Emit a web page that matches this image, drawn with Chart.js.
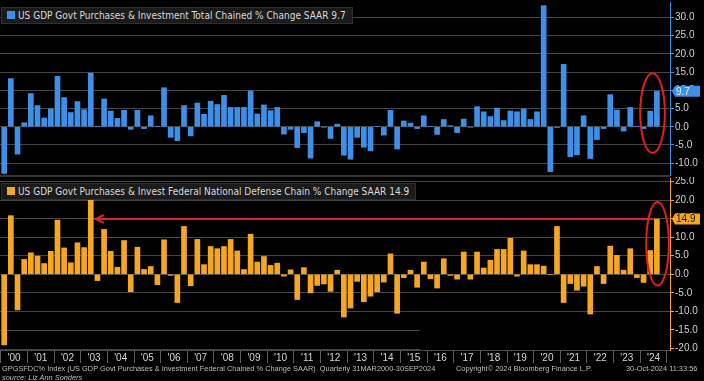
<!DOCTYPE html>
<html>
<head>
<meta charset="utf-8">
<script src="https://cdn.jsdelivr.net/npm/chart.js@4.4.1/dist/chart.umd.min.js"></script>
<style>
html,body{margin:0;padding:0;background:#000;width:704px;height:381px;overflow:hidden;}
.box{position:absolute;left:0;width:704px;}
#b1{top:0;height:176px;}
#b2{top:177px;height:190px;}
.sep{position:absolute;left:0;width:670px;top:175px;height:2px;background:#353535;}
.legend{position:absolute;left:1px;height:15px;background:#1b1b1b;border:1px solid #2f2f2f;color:#d8d8d8;
  font-family:"Liberation Sans Narrow","Arial Narrow","DejaVu Sans Condensed","Liberation Sans",sans-serif;font-size:10px;
  line-height:15px;white-space:nowrap;padding:0 6px 0 16px;}
.legend i{position:absolute;left:5px;top:3px;width:8px;height:8px;}
.foot{position:absolute;color:#bdbdbd;font-family:"Liberation Sans Narrow","Arial Narrow","Liberation Sans",sans-serif;font-size:7.4px;white-space:nowrap;line-height:9px;}
</style>
</head>
<body>
<div class="box" id="b1"><canvas id="c1"></canvas></div>
<div class="sep"></div>
<div class="box" id="b2"><canvas id="c2"></canvas></div>
<div class="legend" id="lg1" style="top:7px"><i style="background:#3f8fe6"></i><span></span></div>
<div class="legend" id="lg2" style="top:183px"><i style="background:#f5a623"></i><span></span></div>
<div class="foot" style="left:2px;top:364px">GPGSFDC% Index (US GDP Govt Purchases &amp; Investment Federal Chained % Change SAAR)&nbsp; Quarterly 31MAR2000-30SEP2024</div>
<div class="foot" style="left:456px;top:364px">Copyright© 2024 Bloomberg Finance L.P.</div>
<div class="foot" style="left:626px;top:364px">30-Oct-2024 11:33:56</div>
<div class="foot" style="left:2px;top:373px;font-style:italic">source: Liz Ann Sonders</div>
<script>
// ---------------- DATA ----------------
const yearLabels = ["'00","'01","'02","'03","'04","'05","'06","'07","'08","'09","'10","'11","'12",
  "'13","'14","'15","'16","'17","'18","'19","'20","'21","'22","'23","'24"];

const govtTotal = [
  -12.8, 13.2, -7.5, 1.1,   9.1, 5.8, 2.4, 4.9,   13.8, 8.0, 3.9, 6.9,   4.7, 14.7, 0.1, 7.6,
  4.3, 2.3, 4.5, -0.7,   4.5, -0.5, 3.0, 0.1,   10.7, -2.9, -3.8, 5.8,   -2.5, 6.5, 3.4, 7.0,
  6.1, 8.6, 5.3, 5.3,   5.3, 9.8, 3.5, 6.0,   4.4, 5.3, -2.0, -0.7,   -5.7, -1.6, -8.6, 1.4,
  -0.1, -3.2, 0.7, -7.8,   -8.9, -2.9, -5.6, -6.6,   0.1, -2.3, 4.5, -6.1,   1.6, 1.0, -0.5, 3.0,
  0.1, -2.1, 2.0, 0.3,   -1.6, 2.1, -0.1, 5.5,   4.1, 2.8, 5.1, 1.7,   4.3, 4.1, 4.9, 2.0,
  4.1, 33.2, -12.3, -0.2,   17.1, -8.2, -7.7, 3.0,   -8.7, -3.5, -0.5, 8.8,   4.6, -1.2, 5.3, 0.1,
  -0.5, 4.3, 9.7
];

const defense = [
  -19.0, 15.8, -9.6, 4.0,   5.8, 4.9, 2.9, 6.2,   14.6, 7.1, 3.1, 8.5,   7.2, 20.0, -1.7, 12.1,
  6.2, 1.9, 9.1, -4.7,   7.3, 1.3, 2.1, -2.8,   9.3, -0.3, -7.6, 12.9,   -3.1, 9.4, 2.6, 7.5,
  6.9, 7.5, 9.4, 6.3,   1.3, 10.8, 3.3, 4.8,   2.4, 3.0, -0.5, 1.2,   -6.8, 1.8, -5.0, -3.0,
  -2.6, -4.6, 1.1, -11.5,   -9.1, -1.9, -7.4, -5.9,   -4.7, -2.1, 5.5, -10.5,   -0.9, 1.1, -3.5, 3.3,
  -1.2, -3.7, 4.2, -0.3,   -1.3, 6.0, -1.3, 6.0,   1.7, 3.8, 6.7, 6.7,   9.7, -0.5, 6.3, 2.6,
  2.6, 2.2, 0.0, 12.9,   -7.6, -2.5, -4.3, -3.2,   -10.7, 2.1, -2.5, 7.6,   5.1, 1.1, 6.9, -0.9,
  -2.2, 6.4, 14.9
];

const topTicks = [-10, -5, 0, 5, 10, 15, 20, 25, 30];
const bottomTicks = [-20, -15, -10, -5, 0, 5, 10, 15, 20, 25];

const seriesNames = [
  "US GDP Govt Purchases & Investment Total Chained % Change SAAR",
  "US GDP Govt Purchases & Invest Federal National Defense Chain % Change SAAR"
];
// ---------------------------------------

const BLUE = '#3f8fe6', ORANGE = '#f5a623', RED = '#d8232f', GRID = '#454545';
Chart.defaults.font.family = "'Liberation Sans', Arial, sans-serif";
Chart.defaults.animation = false;

const lastTop = govtTotal[govtTotal.length - 1];
const lastBot = defense[defense.length - 1];
document.querySelector('#lg1 span').textContent = seriesNames[0] + ' ' + lastTop.toFixed(1);
document.querySelector('#lg2 span').textContent = seriesNames[1] + ' ' + lastBot.toFixed(1);

const annot = {
  id: 'annot',
  beforeDatasetsDraw(chart, a, o) {
    if (!o.partial) return;
    const {ctx, chartArea: ca, scales: {x, y}} = chart;
    ctx.save();
    ctx.strokeStyle = GRID; ctx.lineWidth = 1;
    for (const v of o.partial.values) {
      const py = Math.round(y.getPixelForValue(v)) + 0.5;
      ctx.beginPath(); ctx.moveTo(ca.left, py); ctx.lineTo(x.getPixelForValue(o.partial.toIndex), py); ctx.stroke();
    }
    ctx.restore();
  },
  afterDatasetsDraw(chart, a, o) {
    const {ctx, chartArea: ca, scales: {x, y}} = chart;
    ctx.save();
    if (o.arrow) {
      const ay = y.getPixelForValue(o.arrow.value);
      const x0 = x.getPixelForValue(o.arrow.tipIndex), x1 = x.getPixelForValue(o.arrow.fromIndex);
      ctx.strokeStyle = RED; ctx.lineWidth = 2;
      ctx.beginPath(); ctx.moveTo(x1, ay); ctx.lineTo(x0, ay); ctx.stroke();
      ctx.beginPath(); ctx.moveTo(x0 + 9, ay - 4); ctx.lineTo(x0 + 1, ay); ctx.lineTo(x0 + 9, ay + 4); ctx.stroke();
    }
    if (o.ellipse) {
      const e = o.ellipse;
      const px0 = x.getPixelForValue(e.i0), px1 = x.getPixelForValue(e.i1);
      const py0 = y.getPixelForValue(e.v1), py1 = y.getPixelForValue(e.v0);
      ctx.strokeStyle = '#e0201e'; ctx.lineWidth = 2;
      ctx.beginPath();
      ctx.ellipse((px0 + px1) / 2, (py0 + py1) / 2, (px1 - px0) / 2, (py1 - py0) / 2, 0, 0, Math.PI * 2);
      ctx.stroke();
    }
    if (o.last) {
      const py = y.getPixelForValue(o.last.value);
      const lx = ca.right + 2, w = 28, h = 11;
      ctx.fillStyle = o.last.bg;
      ctx.beginPath();
      ctx.moveTo(lx, py); ctx.lineTo(lx + 3, py - h / 2); ctx.lineTo(lx + w, py - h / 2);
      ctx.lineTo(lx + w, py + h / 2); ctx.lineTo(lx + 3, py + h / 2); ctx.closePath(); ctx.fill();
      ctx.fillStyle = o.last.fg; ctx.font = "10px 'Liberation Sans', Arial, sans-serif";
      ctx.textBaseline = 'middle'; ctx.textAlign = 'left';
      ctx.fillText(o.last.value.toFixed(1), lx + 4, py + 0.5);
    }
    ctx.restore();
  }
};

function makeChart(id, values, color, yMin, yMax, yTicks, showX, annotOpts) {
  const n = values.length;
  return new Chart(document.getElementById(id), {
    type: 'bar',
    data: {
      datasets: [{
        label: id,
        data: values.map((v, i) => ({x: i, y: v})),
        backgroundColor: color,
        borderWidth: 0,
        barThickness: 5
      }]
    },
    options: {
      responsive: true,
      maintainAspectRatio: false,
      layout: {padding: {left: 0, right: 0, top: showX ? 1 : 2, bottom: 0}},
      plugins: {legend: {display: false}, tooltip: {enabled: false}, annot: annotOpts},
      scales: {
        x: {
          type: 'linear', min: -0.63, max: n + 0.97, offset: false,
          display: showX,
          afterBuildTicks: s => {
            s.ticks = yearLabels.map((_, k) => ({value: 4 * k - 0.5}));
            s.ticks.push({value: 4 * yearLabels.length - 0.5});
          },
          afterFit: s => { if (showX) s.height = 17; else s.height = 0; s.paddingLeft = 0; s.paddingRight = 0; },
          grid: {drawOnChartArea: false, drawTicks: true, tickLength: 13, tickColor: '#5c5c5c', offset: false},
          border: {display: true, color: '#4a4a4a'},
          ticks: {color: '#d4d4d4', font: {size: 10}, padding: -11, labelOffset: 13.3,
                  maxRotation: 0, minRotation: 0, autoSkip: false,
                  callback: (v, i) => yearLabels[i] || ''}
        },
        y: {
          position: 'right', min: yMin, max: yMax,
          afterBuildTicks: s => { s.ticks = yTicks.map(v => ({value: v})); },
          afterFit: s => { s.width = 34; s.paddingTop = 0; s.paddingBottom = 0; },
          grid: {
            color: c => (annotOpts.partial && c.tick && annotOpts.partial.values.includes(c.tick.value)) ? 'rgba(0,0,0,0)' : GRID,
            lineWidth: 1, drawTicks: true, tickLength: 4, tickColor: color
          },
          border: {display: true, color: color, width: 1},
          ticks: {color: '#cfcfcf', font: {size: 10}, padding: 1, callback: v => Number(v).toFixed(1)}
        }
      }
    },
    plugins: [annot]
  });
}

const n = defense.length;
let peakIdx = 0;
for (let i = 0; i < 30; i++) if (defense[i] > defense[peakIdx]) peakIdx = i;

makeChart('c1', govtTotal, BLUE, -13.5, 34.2, topTicks, false, {
  ellipse: {i0: n - 3.5, i1: n + 0.2, v0: -7.2, v1: 14.7},
  last: {value: lastTop, bg: BLUE, fg: '#e8f1ff'}
});
makeChart('c2', defense, ORANGE, -20.4, 25.95, bottomTicks, true, {
  partial: {values: [-15, -20], toIndex: 62.5},
  arrow: {value: lastBot, tipIndex: peakIdx + 0.6, fromIndex: n - 1.5},
  ellipse: {i0: n - 2.6, i1: n + 0.8, v0: -3.0, v1: 19.5},
  last: {value: lastBot, bg: ORANGE, fg: '#1a1a1a'}
});
</script>
</body>
</html>
